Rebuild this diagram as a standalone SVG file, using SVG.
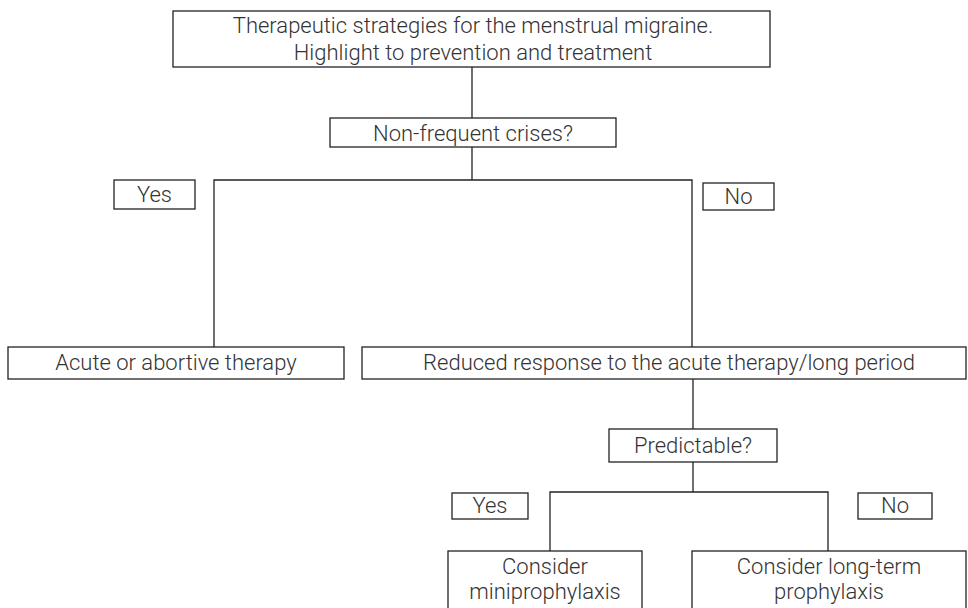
<svg xmlns="http://www.w3.org/2000/svg" width="968" height="608" viewBox="0 0 968 608">
<style>
  .box { fill: #ffffff; stroke: #222222; stroke-width: 1.3; }
  .conn { fill: none; stroke: #222222; stroke-width: 1.3; }
  text { font-family: Roboto, "Liberation Sans", sans-serif; font-weight: 300; font-size: 22px; fill: #333333; text-anchor: middle; }
</style>
<rect width="968" height="608" fill="#ffffff"/>
<g id="connectors">
  <line class="conn" x1="472" y1="67" x2="472" y2="118"/>
  <line class="conn" x1="472" y1="147" x2="472" y2="180"/>
  <polyline class="conn" points="214,347 214,180 692,180 692,347"/>
  <line class="conn" x1="693" y1="379" x2="693" y2="429"/>
  <line class="conn" x1="693" y1="462" x2="693" y2="492"/>
  <polyline class="conn" points="550,551 550,492 828,492 828,551"/>
</g>
<g id="title">
  <rect class="box" x="173" y="11" width="597" height="56"/>
  <text x="473" y="33">Therapeutic strategies for the menstrual migraine.</text>
  <text x="473" y="60">Highlight to prevention and treatment</text>
</g>
<g id="crises">
  <rect class="box" x="330" y="118" width="286" height="29"/>
  <text x="473" y="141">Non-frequent crises?</text>
</g>
<g id="yes1">
  <rect class="box" x="114" y="180" width="81" height="29"/>
  <text x="154.5" y="202">Yes</text>
</g>
<g id="no1">
  <rect class="box" x="703" y="183" width="71" height="27"/>
  <text x="738.5" y="204">No</text>
</g>
<g id="acute">
  <rect class="box" x="8" y="347" width="336" height="32"/>
  <text x="176" y="370">Acute or abortive therapy</text>
</g>
<g id="reduced">
  <rect class="box" x="362" y="347" width="604" height="32"/>
  <text x="669" y="370">Reduced response to the acute therapy/long period</text>
</g>
<g id="predictable">
  <rect class="box" x="609" y="429" width="168" height="33"/>
  <text x="693" y="453">Predictable?</text>
</g>
<g id="yes2">
  <rect class="box" x="452" y="493" width="76" height="26"/>
  <text x="490" y="513">Yes</text>
</g>
<g id="no2">
  <rect class="box" x="858" y="493" width="74" height="26"/>
  <text x="895" y="513">No</text>
</g>
<g id="mini">
  <rect class="box" x="448" y="551" width="194" height="62"/>
  <text x="545" y="574">Consider</text>
  <text x="545" y="599">miniprophylaxis</text>
</g>
<g id="longterm">
  <rect class="box" x="692" y="551" width="274" height="62"/>
  <text x="829" y="574">Consider long-term</text>
  <text x="829" y="599">prophylaxis</text>
</g>
</svg>
